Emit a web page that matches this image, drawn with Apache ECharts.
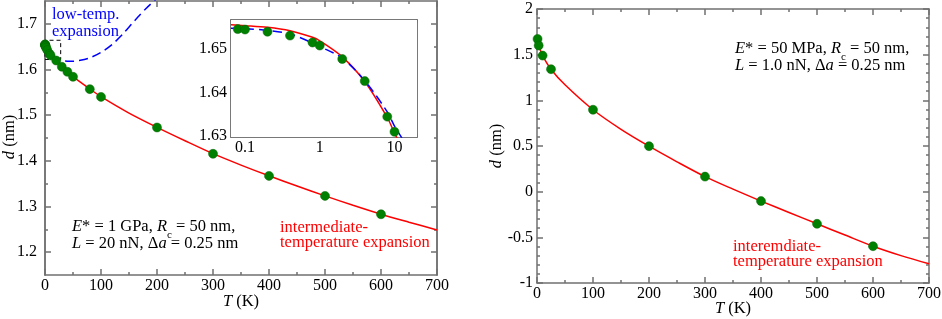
<!DOCTYPE html>
<html>
<head>
<meta charset="utf-8">
<script src="https://cdn.jsdelivr.net/npm/echarts@6/dist/echarts.min.js"></script>
<style>
  html, body { margin: 0; padding: 0; background: #fff; }
  #chart { width: 942px; height: 319px; }
</style>
</head>
<body>
<div id="chart"></div>
<script>
// ---- left panel: E* = 1 GPa ----
const leftPointT = [0.08, 0.1, 0.2, 0.4, 0.8, 1, 2, 4, 8, 10, 20, 30, 40, 50, 80, 100, 200, 300, 400, 500, 600];
const leftPointD = [1.6546, 1.6545, 1.6540, 1.6531, 1.6515, 1.6508, 1.6477, 1.6426, 1.6344, 1.6309, 1.6197, 1.6060, 1.5950, 1.5840, 1.5570, 1.5400, 1.4730, 1.4154, 1.3670, 1.3232, 1.2830];

// intermediate-temperature expansion (red)
const leftFitT = [0, 0.065, 0.1, 0.2, 0.4, 0.8, 1, 2, 4, 8, 10, 11, 20, 30, 40, 50, 80, 100, 150, 200, 250, 300, 350, 400, 450, 500, 550, 600, 650, 700];
const leftFitD = [1.6557, 1.6556, 1.6554, 1.6550, 1.6542, 1.6527, 1.6519, 1.6482, 1.6425, 1.6342, 1.6306, 1.6292, 1.6197, 1.6063, 1.5952, 1.5845, 1.5575, 1.5405, 1.5045, 1.4733, 1.4440, 1.4157, 1.3907, 1.3672, 1.3450, 1.3233, 1.3027, 1.2832, 1.2657, 1.2487];

// low-temperature expansion (blue dashed)
const leftLowT = [0.065, 0.1, 0.2, 0.4, 0.8, 1, 2, 4, 8, 10, 13, 20, 30, 40, 50, 60, 80, 100, 120, 140, 160, 180, 200];
const leftLowD = [1.6548, 1.6547, 1.6543, 1.6535, 1.6514, 1.6506, 1.6479, 1.6427, 1.6355, 1.6322, 1.6290, 1.6228, 1.6195, 1.6183, 1.6182, 1.6195, 1.6255, 1.6375, 1.6550, 1.6790, 1.7070, 1.7330, 1.7560];

// zoom box drawn in the main panel
const boxT = [0, 28, 28, 0];
const boxD = [1.622, 1.622, 1.664, 1.664];

const leftYMajor = [1.2, 1.3, 1.4, 1.5, 1.6, 1.7];
const leftYMinor = [1.25, 1.35, 1.45, 1.55, 1.65];

// inset (log T)
const insetXMajor = [0.1, 1, 10];
const insetXMinor = [0.07, 0.08, 0.09, 0.2, 0.3, 0.4, 0.5, 0.6, 0.7, 0.8, 0.9, 2, 3, 4, 5, 6, 7, 8, 9, 20];
const insetYMajor = [1.63, 1.64, 1.65];
const insetYMinor = [1.635, 1.645, 1.655];

// ---- right panel: E* = 50 MPa ----
const rightPointT = [1, 3, 10, 25, 100, 200, 300, 400, 500, 600];
const rightPointD = [1.672, 1.600, 1.490, 1.341, 0.897, 0.498, 0.165, -0.103, -0.352, -0.597];
const rightFitT = [0, 3, 10, 25, 50, 100, 150, 200, 250, 300, 350, 400, 450, 500, 550, 600, 650, 700];
const rightFitD = [1.630, 1.595, 1.490, 1.341, 1.170, 0.897, 0.683, 0.498, 0.327, 0.165, 0.028, -0.103, -0.228, -0.352, -0.475, -0.597, -0.700, -0.790];

const FONT = '"Liberation Serif", "DejaVu Serif", "Times New Roman", serif';
const AXIS = '#707070';
const TXT = 16.5;
const pairs = (xs, ys) => xs.map((x, i) => [x, ys[i]]);

function makeAxis(o) {
  return {
    type: o.type || 'value',
    gridIndex: o.grid,
    position: o.position,
    min: o.min,
    max: o.max,
    interval: o.interval,
    axisLine: { show: true, onZero: false, lineStyle: { color: AXIS, width: 1.5 } },
    axisTick: {
      show: true, inside: true, length: o.tickLen || 6,
      customValues: o.ticks,
      lineStyle: { color: AXIS, width: 1.5 }
    },
    minorTick: {
      show: !!o.minor, splitNumber: o.minor || 5, length: 3,
      lineStyle: { color: AXIS, width: 1.5 }
    },
    axisLabel: {
      show: !!o.labels,
      customValues: o.labels ? o.ticks : undefined,
      margin: o.margin || 8,
      color: '#000', fontFamily: FONT, fontSize: 16,
      formatter: o.formatter
    },
    splitLine: { show: false }
  };
}

const tAxis = (grid, position, labels) => makeAxis({
  grid, position, labels, min: 0, max: 700, interval: 100, minor: 2, margin: 3
});
const logAxis = (position, ticks, labels, len) => makeAxis({
  grid: 2, position, type: 'log', min: 0.065, max: 20, ticks, labels, tickLen: len, margin: 3
});
const fmt1 = v => v.toFixed(1);
const leftY = (position, ticks, labels, len) => makeAxis({
  grid: 0, position, min: 1.15, max: 1.75, ticks, labels, tickLen: len, margin: 8, formatter: fmt1
});
const insetY = (position, ticks, labels, len) => makeAxis({
  grid: 2, position, min: 1.6297, max: 1.6567, ticks, labels, tickLen: len, margin: 4,
  formatter: v => v.toFixed(2)
});
const rightY = (position, labels) => makeAxis({
  grid: 1, position, labels, min: -1, max: 2, interval: 0.5, minor: 5, margin: 4
});

function rich(color) {
  const base = { fontFamily: FONT, fontSize: TXT, fill: color, lineHeight: 17 };
  return {
    n: base,
    i: Object.assign({}, base, { fontStyle: 'italic' }),
    s: Object.assign({}, base, { fontSize: 11, padding: [18, 0, 0, 0] })
  };
}
function text(x, y, str, color, lineHeight) {
  return {
    type: 'text', x, y, z: 100,
    style: {
      text: str, fill: color, fontFamily: FONT, fontSize: TXT,
      lineHeight: lineHeight || 17, align: 'left', verticalAlign: 'top',
      rich: rich(color)
    }
  };
}
function axisTitle(x, y, str, rotate) {
  return {
    type: 'text', x, y, z: 100, rotation: rotate ? Math.PI / 2 : 0,
    style: {
      text: str, fill: '#000', fontFamily: FONT, fontSize: TXT,
      align: 'center', verticalAlign: 'middle', rich: rich('#000')
    }
  };
}

const lineSeries = (xi, yi, data, color, dashed) => ({
  type: 'line', xAxisIndex: xi, yAxisIndex: yi, data,
  showSymbol: false, smooth: 0.3, clip: true, z: 3,
  lineStyle: { color, width: 1.5, type: dashed ? [9, 5] : 'solid' }
});
const dotSeries = (xi, yi, data) => ({
  type: 'scatter', xAxisIndex: xi, yAxisIndex: yi, data,
  symbolSize: 9, z: 5, clip: true,
  itemStyle: { color: '#008000', borderColor: '#006400', borderWidth: 0.5, opacity: 1 }
});

const option = {
  animation: false,
  backgroundColor: '#fff',
  textStyle: { fontFamily: FONT },
  grid: [
    { left: 45, top: 1, width: 392, height: 274, containLabel: false, outerBoundsMode: 'none' },
    { left: 537, top: 9, width: 392, height: 274, containLabel: false, outerBoundsMode: 'none' },
    { left: 231, top: 20, width: 186, height: 117, containLabel: false, outerBoundsMode: 'none',
      show: true, backgroundColor: '#fff', borderWidth: 0, z: 2 }
  ],
  xAxis: [
    tAxis(0, 'bottom', true),
    tAxis(0, 'top', false),
    tAxis(1, 'bottom', true),
    tAxis(1, 'top', false),
    logAxis('bottom', insetXMajor, true, 6),
    logAxis('bottom', insetXMinor, false, 3),
    logAxis('top', insetXMajor, false, 6),
    logAxis('top', insetXMinor, false, 3)
  ],
  yAxis: [
    leftY('left', leftYMajor, true, 6),
    leftY('left', leftYMinor, false, 3),
    leftY('right', leftYMajor, false, 6),
    leftY('right', leftYMinor, false, 3),
    rightY('left', true),
    rightY('right', false),
    insetY('left', insetYMajor, true, 6),
    insetY('left', insetYMinor, false, 3),
    insetY('right', insetYMajor, false, 6),
    insetY('right', insetYMinor, false, 3)
  ],
  series: [
    // left main panel
    lineSeries(0, 0, pairs(leftFitT, leftFitD), '#ff0000'),
    lineSeries(0, 0, pairs(leftLowT, leftLowD), '#0000ff', true),
    Object.assign(lineSeries(0, 0, pairs(boxT, boxD).concat([[boxT[0], boxD[0]]]), '#000'), {
      smooth: false, lineStyle: { color: '#000', width: 1, type: [4, 3] }
    }),
    dotSeries(0, 0, pairs(leftPointT, leftPointD)),
    // inset
    lineSeries(4, 6, pairs(leftFitT, leftFitD).filter(p => p[0] > 0), '#ff0000'),
    lineSeries(4, 6, pairs(leftLowT, leftLowD).filter(p => p[0] > 0), '#0000ff', true),
    dotSeries(4, 6, pairs(leftPointT, leftPointD).filter(p => p[0] <= 10)),
    // right panel
    lineSeries(2, 4, pairs(rightFitT, rightFitD), '#ff0000'),
    dotSeries(2, 4, pairs(rightPointT, rightPointD))
  ],
  graphic: [
    text(52, 6, '{n|low-temp.}\n{n|expansion}', '#0000ff'),
    text(72, 218, '{i|E}{n|* = 1 GPa, }{i|R}{s|c}{n| = 50 nm,}', '#000'),
    text(72, 235, '{i|L}{n| = 20 nN, Δ}{i|a}{n| = 0.25 nm}', '#000'),
    text(280, 220, 'intermediate-\ntemperature expansion', '#ff0000', 15),
    text(735, 40, '{i|E}{n|* = 50 MPa, }{i|R}{s|c}{n| = 50 nm,}', '#000'),
    text(735, 57, '{i|L}{n| = 1.0 nN, Δ}{i|a}{n| = 0.25 nm}', '#000'),
    text(733, 239, 'interemdiate-\ntemperature expansion', '#ff0000', 15),
    axisTitle(241, 302, '{i|T}{n| (K)}'),
    axisTitle(733, 309, '{i|T}{n| (K)}'),
    axisTitle(10, 137, '{i|d}{n| (nm)}', true),
    axisTitle(497, 146, '{i|d}{n| (nm)}', true)
  ]
};

const chart = echarts.init(document.getElementById('chart'), null, { renderer: 'canvas' });
chart.setOption(option);
</script>
</body>
</html>
